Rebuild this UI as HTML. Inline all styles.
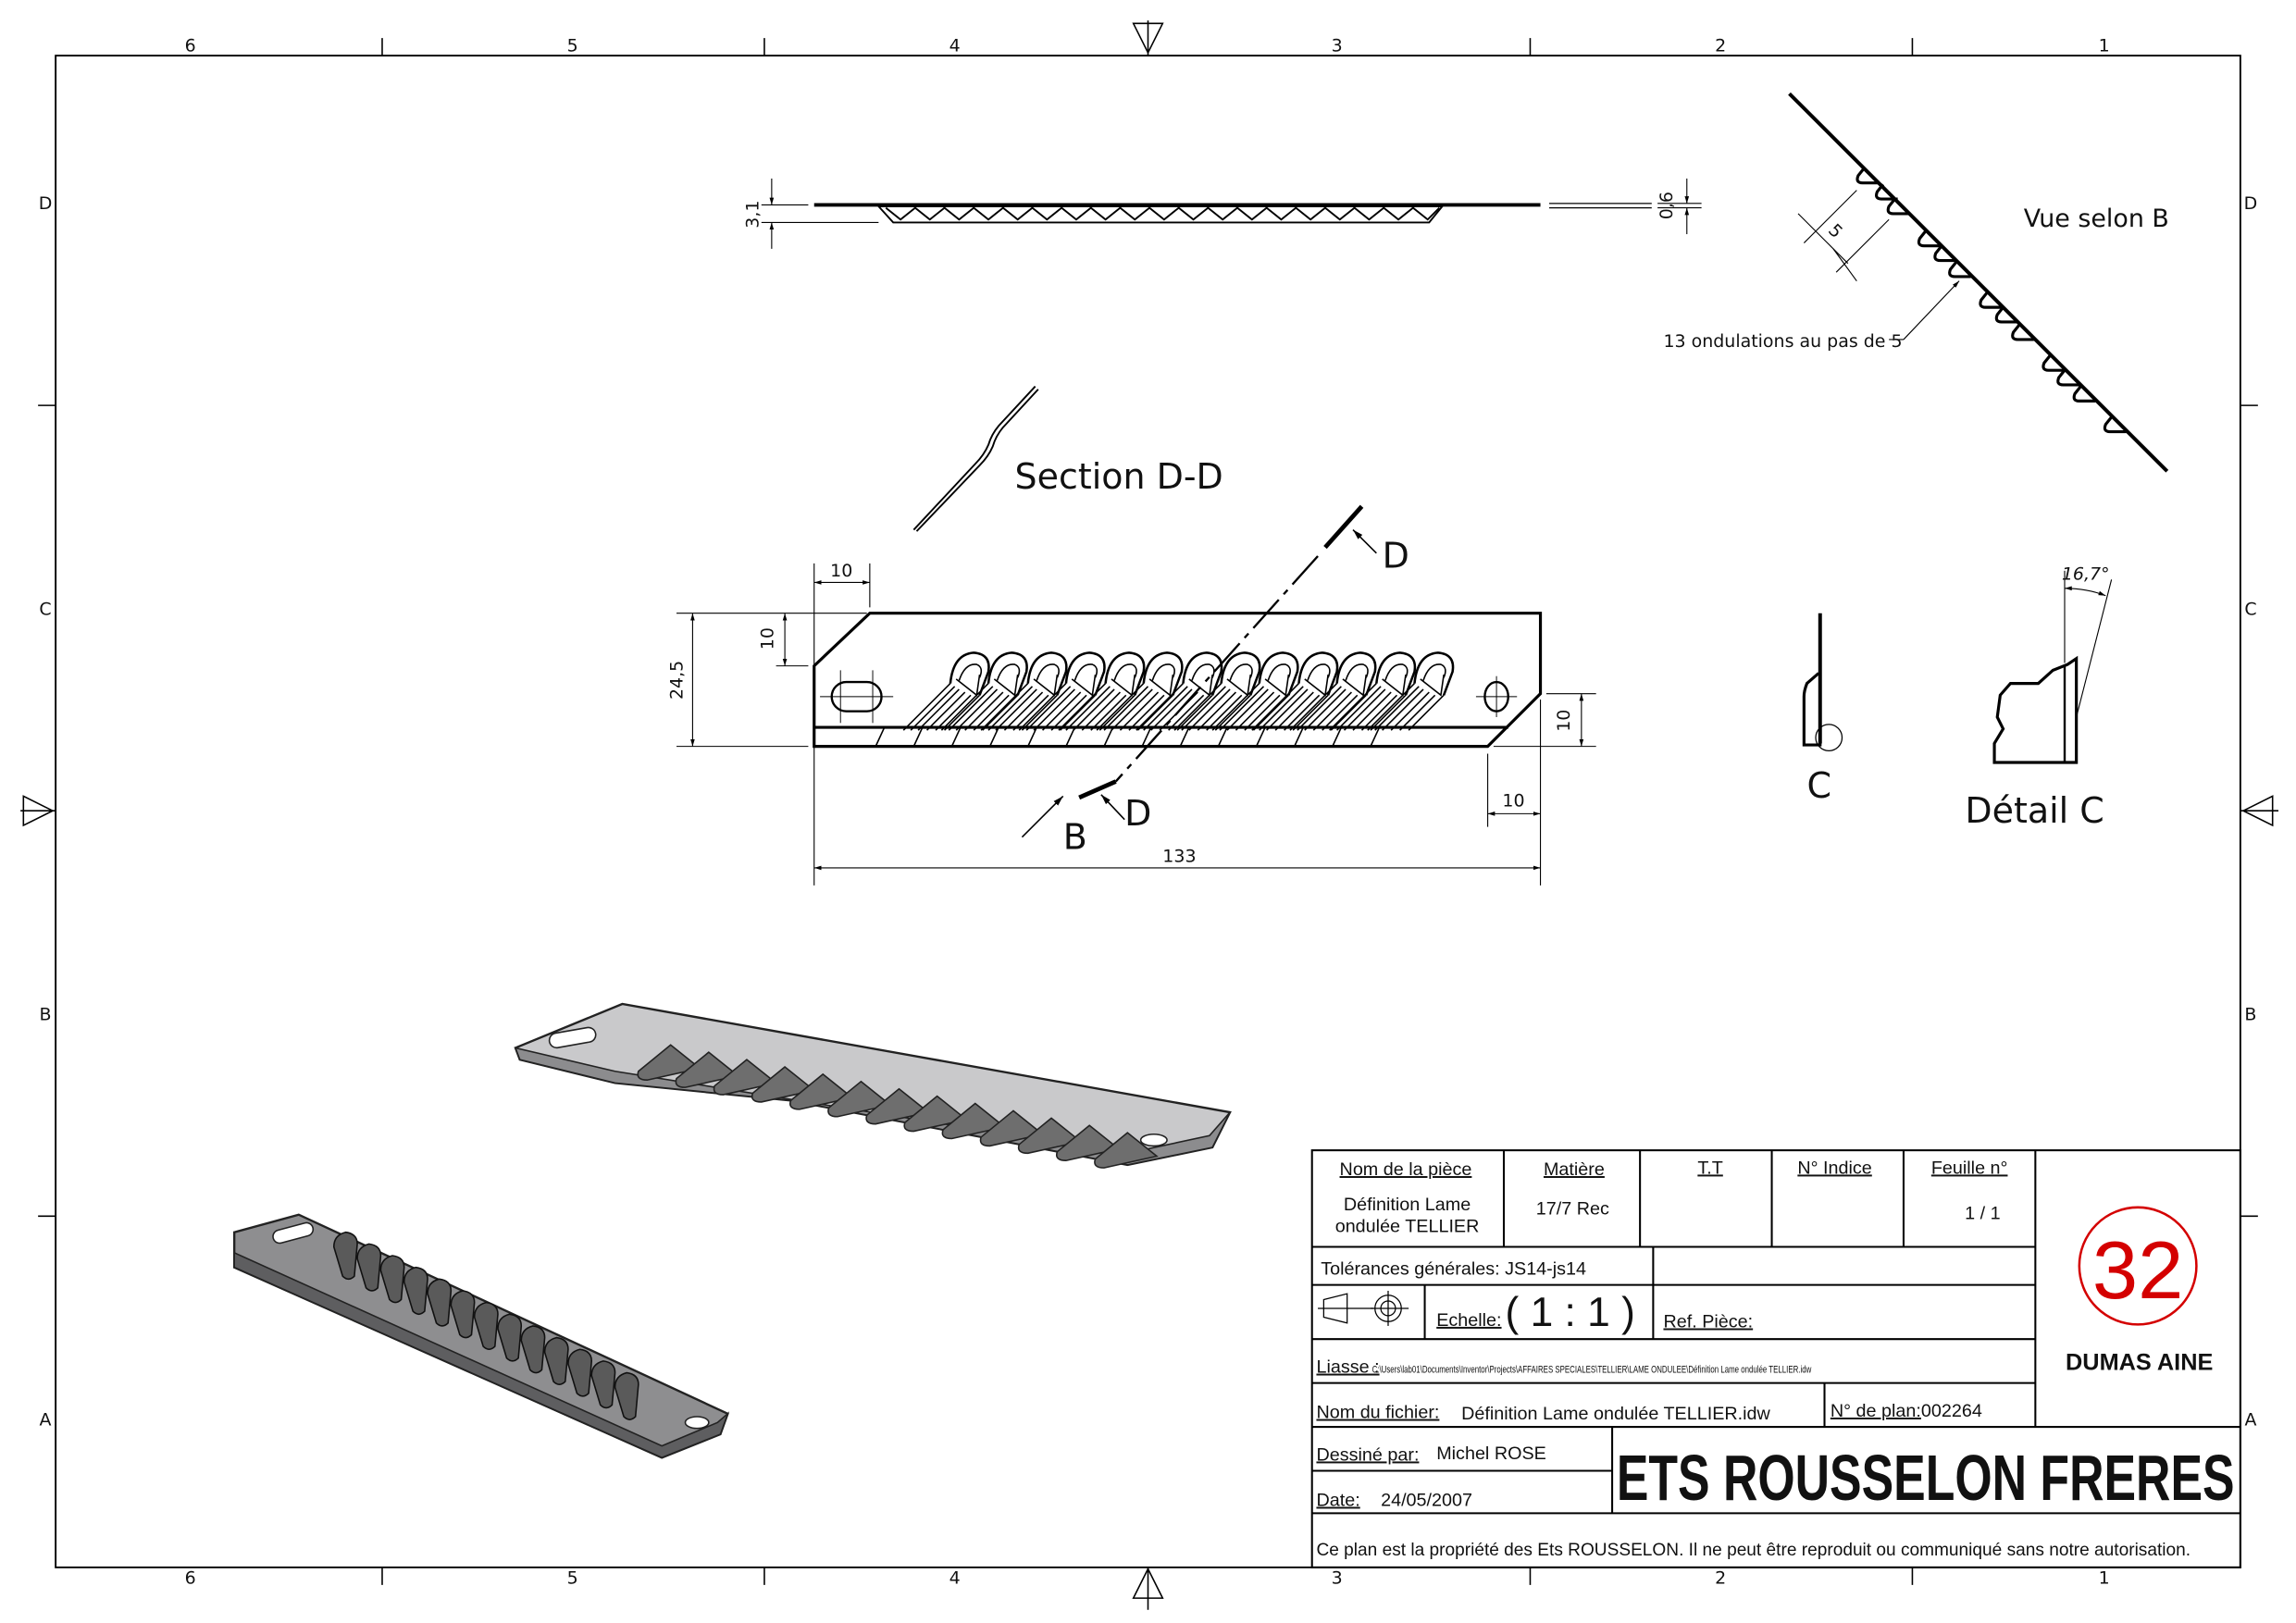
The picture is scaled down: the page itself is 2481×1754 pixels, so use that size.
<!DOCTYPE html>
<html><head><meta charset="utf-8"><style>
html,body{margin:0;padding:0;background:#fff}
svg{display:block}
.t{font-family:"DejaVu Sans","Liberation Sans",sans-serif;fill:#111}
.n{font-family:"Liberation Sans",sans-serif;fill:#111}
</style></head><body>
<svg width="2481" height="1754" viewBox="0 0 1568 1109" preserveAspectRatio="none" xmlns="http://www.w3.org/2000/svg">
<defs>
<marker id="a" viewBox="0 0 10 10" refX="10" refY="5" markerWidth="7" markerHeight="7" orient="auto-start-reverse"><path d="M0,2 L10,5 L0,8 Z" fill="#000"/></marker>
<g id="w" fill="none" stroke="#000" stroke-width="1">
<path d="M-14,20 Q-12,0 2,-1 Q14,0 12,12 L6,28" stroke-width="1.6"/>
<path d="M-8,18 Q-4,6 4,7 Q9,9 6,16" />
<path d="M-10,17 L4,28 L6,14"/>
<line x1="-14" y1="20" x2="-46" y2="52"/>
<line x1="-11" y1="22" x2="-41" y2="52"/>
<line x1="-8" y1="24" x2="-36" y2="52"/>
<line x1="-4" y1="26" x2="-30" y2="52"/>
<line x1="0" y1="28" x2="-24" y2="52"/>
<line x1="6" y1="28" x2="-18" y2="52"/>
</g>
<path id="tooth" d="M0,0 L-4,5 Q-6,10 -1,10 L10,10" fill="none" stroke="#000" stroke-width="2"/>
<path id="bump1" d="M0,0 L-22,18 Q-24,24 -16,24 L20,16 Z" fill="#6e6e6e" stroke="#222" stroke-width="1"/>
<path id="bump2" d="M0,0 Q-8,2 -8,10 L-2,30 Q2,34 6,30 L8,8 Q8,1 0,0 Z" fill="#5a5a5a" stroke="#111" stroke-width="1"/>
</defs>

<rect x="38" y="38" width="1492" height="1033" fill="none" stroke="#000" stroke-width="1.2"/>
<g stroke="#000" stroke-width="1">
<line x1="261" y1="26" x2="261" y2="38"/><line x1="522" y1="26" x2="522" y2="38"/><line x1="1045" y1="26" x2="1045" y2="38"/><line x1="1306" y1="26" x2="1306" y2="38"/>
<line x1="261" y1="1071" x2="261" y2="1083"/><line x1="522" y1="1071" x2="522" y2="1083"/><line x1="1045" y1="1071" x2="1045" y2="1083"/><line x1="1306" y1="1071" x2="1306" y2="1083"/>
<line x1="26" y1="277" x2="38" y2="277"/><line x1="26" y1="831" x2="38" y2="831"/>
<line x1="1530" y1="277" x2="1542" y2="277"/><line x1="1530" y1="831" x2="1542" y2="831"/>
<line x1="784" y1="14" x2="784" y2="38"/><path d="M774,16 L794,16 L784,36 Z" fill="none"/>
<line x1="784" y1="1071" x2="784" y2="1100"/><path d="M774,1092 L794,1092 L784,1072 Z" fill="none"/>
<line x1="14" y1="554" x2="38" y2="554"/><path d="M16,544 L16,564 L36,554 Z" fill="none"/>
<line x1="1530" y1="554" x2="1556" y2="554"/><path d="M1552,544 L1552,564 L1532,554 Z" fill="none"/>
</g>
<g class="t" font-size="12" text-anchor="middle">
<text x="130" y="35">6</text><text x="391" y="35">5</text><text x="652" y="35">4</text><text x="913" y="35">3</text><text x="1175" y="35">2</text><text x="1437" y="35">1</text>
<text x="130" y="1082">6</text><text x="391" y="1082">5</text><text x="652" y="1082">4</text><text x="913" y="1082">3</text><text x="1175" y="1082">2</text><text x="1437" y="1082">1</text>
<text x="31" y="143">D</text><text x="31" y="420">C</text><text x="31" y="697">B</text><text x="31" y="974">A</text>
<text x="1537" y="143">D</text><text x="1537" y="420">C</text><text x="1537" y="697">B</text><text x="1537" y="974">A</text>
</g>

<g stroke="#000" fill="none">
<line x1="556" y1="140" x2="1052" y2="140" stroke-width="2.5"/>
<path d="M600,141 L985,141 L976,152 L610,152 Z" stroke-width="1.2"/>
<path d="M605,142 L615,150 L625,142 L635,150 L645,142 L655,150 L665,142 L675,150 L685,142 L695,150 L705,142 L715,150 L725,142 L735,150 L745,142 L755,150 L765,142 L775,150 L785,142 L795,150 L805,142 L815,150 L825,142 L835,150 L845,142 L855,150 L865,142 L875,150 L885,142 L895,150 L905,142 L915,150 L925,142 L935,150 L945,142 L955,150 L965,142 L975,150 L983,142" stroke-width="1.2"/>
<line x1="1058" y1="139" x2="1128" y2="139" stroke-width="0.8"/><line x1="1058" y1="142" x2="1128" y2="142" stroke-width="0.8"/>
<g stroke-width="0.7">
<line x1="520" y1="140" x2="552" y2="140"/><line x1="520" y1="152" x2="600" y2="152"/>
<line x1="527" y1="122" x2="527" y2="140" marker-end="url(#a)"/><line x1="527" y1="170" x2="527" y2="152" marker-end="url(#a)"/>
<line x1="1132" y1="139" x2="1162" y2="139"/><line x1="1132" y1="142" x2="1162" y2="142"/>
<line x1="1152" y1="122" x2="1152" y2="139" marker-end="url(#a)"/><line x1="1152" y1="160" x2="1152" y2="142" marker-end="url(#a)"/>
</g></g>
<text class="t" font-size="12" transform="translate(518,156) rotate(-90)">3,1</text>
<text class="t" font-size="12" transform="translate(1142,150) rotate(-90)">0,6</text>

<g stroke="#000" fill="none">
<line x1="1222" y1="64" x2="1480" y2="322" stroke-width="2.5"/>
<use href="#tooth" x="1273" y="115"/><use href="#tooth" x="1294" y="136"/><use href="#tooth" x="1315" y="158"/><use href="#tooth" x="1336" y="179"/><use href="#tooth" x="1357" y="200"/><use href="#tooth" x="1379" y="222"/><use href="#tooth" x="1400" y="243"/><use href="#tooth" x="1421" y="264"/><use href="#tooth" x="1442" y="285"/><use href="#tooth" x="1286" y="126"/><use href="#tooth" x="1326" y="168"/><use href="#tooth" x="1368" y="210"/><use href="#tooth" x="1410" y="253"/>
<g stroke-width="0.7">
<line x1="1268" y1="130" x2="1232" y2="166"/><line x1="1290" y1="150" x2="1254" y2="186"/>
<line x1="1228" y1="146" x2="1262" y2="180" /><line x1="1252" y1="170" x2="1268" y2="192"/>
<line x1="1290" y1="232" x2="1300" y2="232"/><line x1="1300" y1="232" x2="1338" y2="192" marker-end="url(#a)"/>
</g></g>
<text class="t" font-size="12" transform="translate(1248,158) rotate(45)">5</text>
<text class="t" font-size="12" x="1136" y="237">13 ondulations au pas de 5</text>
<text class="t" font-size="17" x="1382" y="155">Vue selon B</text>

<g fill="none" stroke="#000">
<path d="M707,264 L682,291 Q677,297 675,304 Q672,311 666,317 L624,362" stroke-width="1.2"/>
<path d="M709,266 L685,292 Q680,298 678,305 Q675,312 669,318 L626,363" stroke-width="1.2"/>
</g>
<text class="t" font-size="24" x="693" y="334">Section D-D</text>

<g stroke="#000" fill="none">
<path d="M556,455 L594,419 L1052,419 L1052,474 L1016,510 L556,510 Z" stroke-width="2"/>
<line x1="556" y1="497" x2="1030" y2="497" stroke-width="2"/>
<g stroke-width="1">
<line x1="604" y1="497" x2="598" y2="510"/><line x1="630" y1="497" x2="624" y2="510"/><line x1="656" y1="497" x2="650" y2="510"/><line x1="682" y1="497" x2="676" y2="510"/><line x1="708" y1="497" x2="702" y2="510"/><line x1="734" y1="497" x2="728" y2="510"/><line x1="760" y1="497" x2="754" y2="510"/><line x1="786" y1="497" x2="780" y2="510"/><line x1="812" y1="497" x2="806" y2="510"/><line x1="838" y1="497" x2="832" y2="510"/><line x1="864" y1="497" x2="858" y2="510"/><line x1="890" y1="497" x2="884" y2="510"/><line x1="916" y1="497" x2="910" y2="510"/><line x1="942" y1="497" x2="936" y2="510"/>
</g>
<rect x="568" y="466" width="34" height="20" rx="10" stroke-width="1.5"/>
<line x1="560" y1="476" x2="610" y2="476" stroke-width="0.6"/><line x1="574" y1="458" x2="574" y2="494" stroke-width="0.6"/><line x1="596" y1="458" x2="596" y2="494" stroke-width="0.6"/>
<ellipse cx="1022" cy="476" rx="8" ry="10" stroke-width="1.5"/>
<line x1="1008" y1="476" x2="1036" y2="476" stroke-width="0.6"/><line x1="1022" y1="462" x2="1022" y2="490" stroke-width="0.6"/>
<use href="#w" x="663" y="447"/><use href="#w" x="689" y="447"/><use href="#w" x="716" y="447"/><use href="#w" x="742" y="447"/><use href="#w" x="769" y="447"/><use href="#w" x="795" y="447"/><use href="#w" x="822" y="447"/><use href="#w" x="848" y="447"/><use href="#w" x="874" y="447"/><use href="#w" x="901" y="447"/><use href="#w" x="927" y="447"/><use href="#w" x="954" y="447"/><use href="#w" x="980" y="447"/>
<line x1="930" y1="346" x2="905" y2="374" stroke-width="3"/>
<line x1="900" y1="380" x2="762" y2="534" stroke-width="1.5" stroke-dasharray="26,5,4,5"/>
<line x1="762" y1="534" x2="737" y2="545" stroke-width="3"/>
<line x1="940" y1="378" x2="924" y2="362" stroke-width="1" marker-end="url(#a)"/>
<line x1="768" y1="560" x2="752" y2="543" stroke-width="1" marker-end="url(#a)"/>
<line x1="698" y1="572" x2="726" y2="544" stroke-width="1" marker-end="url(#a)"/>
<g stroke-width="0.7">
<line x1="556" y1="385" x2="556" y2="605"/><line x1="594" y1="385" x2="594" y2="415"/>
<line x1="556" y1="398" x2="594" y2="398" marker-start="url(#a)" marker-end="url(#a)"/>
<line x1="462" y1="419" x2="592" y2="419"/><line x1="462" y1="510" x2="552" y2="510"/>
<line x1="473" y1="419" x2="473" y2="510" marker-start="url(#a)" marker-end="url(#a)"/>
<line x1="530" y1="455" x2="552" y2="455"/>
<line x1="536" y1="419" x2="536" y2="455" marker-start="url(#a)" marker-end="url(#a)"/>
<line x1="1056" y1="474" x2="1090" y2="474"/><line x1="1020" y1="510" x2="1090" y2="510"/>
<line x1="1080" y1="474" x2="1080" y2="510" marker-start="url(#a)" marker-end="url(#a)"/>
<line x1="1052" y1="478" x2="1052" y2="605"/><line x1="1016" y1="515" x2="1016" y2="565"/>
<line x1="1016" y1="556" x2="1052" y2="556" marker-start="url(#a)" marker-end="url(#a)"/>
<line x1="556" y1="593" x2="1052" y2="593" marker-start="url(#a)" marker-end="url(#a)"/>
</g></g>
<g class="t" font-size="12">
<text x="567" y="394">10</text>
<text transform="translate(528,444) rotate(-90)">10</text>
<text transform="translate(466,478) rotate(-90)">24,5</text>
<text transform="translate(1072,500) rotate(-90)">10</text>
<text x="1026" y="551">10</text>
<text x="794" y="589">133</text>
</g>
<g class="t" font-size="24"><text x="944" y="388">D</text><text x="768" y="564">D</text><text x="726" y="580">B</text></g>

<g stroke="#000" fill="none">
<line x1="1243" y1="419" x2="1243" y2="508" stroke-width="2.5"/>
<path d="M1242,460 L1234,467 Q1232,472 1232,476 L1232,509 L1244,509" stroke-width="2"/>
<circle cx="1249" cy="504" r="9" stroke-width="0.8"/>
<path d="M1362,521 L1362,508 L1368,498 L1364,490 L1366,475 L1373,467 L1392,467 L1402,458 L1412,454 L1418,450 L1418,521 Z" stroke-width="2"/>
<line x1="1410" y1="455" x2="1410" y2="521" stroke-width="1.5"/>
<g stroke-width="0.7">
<line x1="1410" y1="453" x2="1410" y2="390"/><line x1="1418" y1="490" x2="1442" y2="396"/>
<path d="M1410,402 Q1425,402 1438,407" marker-start="url(#a)" marker-end="url(#a)"/>
</g></g>
<text class="t" font-size="12" font-style="italic" x="1408" y="396">16,7°</text>
<text class="t" font-size="24" x="1234" y="545">C</text>
<text class="t" font-size="24" x="1342" y="562">Détail C</text>

<path d="M352,716 L425,686 L840,760 L828,784 L770,796 L540,752 L420,740 L355,724 Z" fill="#c9c9cb" stroke="#222" stroke-width="1.5"/>
<path d="M352,716 L355,724 L420,740 L540,752 L770,796 L828,784 L840,760 L826,776 L770,788 L420,732 Z" fill="#8c8c8e" stroke="#222" stroke-width="1"/>
<rect x="375" y="704" width="32" height="10" rx="5" fill="#fff" stroke="#222" transform="rotate(-10 391 709)"/>
<ellipse cx="788" cy="779" rx="9" ry="4" fill="#fff" stroke="#222"/>
<g>
<use href="#bump1" x="458" y="714"/><use href="#bump1" x="484" y="719"/><use href="#bump1" x="510" y="724"/><use href="#bump1" x="536" y="729"/><use href="#bump1" x="562" y="734"/><use href="#bump1" x="588" y="739"/><use href="#bump1" x="614" y="744"/><use href="#bump1" x="640" y="749"/><use href="#bump1" x="666" y="754"/><use href="#bump1" x="692" y="759"/><use href="#bump1" x="718" y="764"/><use href="#bump1" x="744" y="769"/><use href="#bump1" x="770" y="774"/>
</g>

<path d="M160,842 L204,830 L497,966 L492,980 L452,996 L160,866 Z" fill="#8e8e90" stroke="#222" stroke-width="1.5"/>
<path d="M160,856 L160,866 L452,996 L492,980 L497,966 L490,972 L452,988 Z" fill="#5e5e60" stroke="#222" stroke-width="1"/>
<rect x="186" y="838" width="28" height="9" rx="4.5" fill="#fff" stroke="#222" transform="rotate(-15 200 842)"/>
<ellipse cx="476" cy="972" rx="8" ry="4" fill="#fff" stroke="#222"/>
<g>
<use href="#bump2" x="236" y="842"/><use href="#bump2" x="252" y="850"/><use href="#bump2" x="268" y="858"/><use href="#bump2" x="284" y="866"/><use href="#bump2" x="300" y="874"/><use href="#bump2" x="316" y="882"/><use href="#bump2" x="332" y="890"/><use href="#bump2" x="348" y="898"/><use href="#bump2" x="364" y="906"/><use href="#bump2" x="380" y="914"/><use href="#bump2" x="396" y="922"/><use href="#bump2" x="412" y="930"/><use href="#bump2" x="428" y="938"/>
</g>

<g stroke="#000" stroke-width="1.3" fill="none">
<rect x="896" y="786" width="634" height="285"/>
<line x1="896" y1="852" x2="1390" y2="852"/>
<line x1="1027" y1="786" x2="1027" y2="852"/><line x1="1120" y1="786" x2="1120" y2="852"/><line x1="1210" y1="786" x2="1210" y2="852"/><line x1="1300" y1="786" x2="1300" y2="852"/>
<line x1="1390" y1="786" x2="1390" y2="975"/>
<line x1="1129" y1="852" x2="1129" y2="915"/>
<line x1="896" y1="878" x2="1390" y2="878"/>
<line x1="973" y1="878" x2="973" y2="915"/>
<line x1="896" y1="915" x2="1390" y2="915"/>
<line x1="896" y1="945" x2="1390" y2="945"/>
<line x1="1246" y1="945" x2="1246" y2="975"/>
<line x1="896" y1="975" x2="1530" y2="975"/>
<line x1="1101" y1="975" x2="1101" y2="1034"/>
<line x1="896" y1="1005" x2="1101" y2="1005"/>
<line x1="896" y1="1034" x2="1530" y2="1034"/>
<g stroke-width="0.8"><path d="M904,888 L920,884 L920,904 L904,900 Z"/><line x1="900" y1="894" x2="938" y2="894"/><circle cx="948" cy="894" r="9"/><circle cx="948" cy="894" r="5"/><line x1="936" y1="894" x2="962" y2="894"/><line x1="948" y1="882" x2="948" y2="906"/></g>
</g>
<circle cx="1460" cy="865" r="40" fill="none" stroke="#d40000" stroke-width="1.6"/>
<text class="n" font-size="56" style="fill:#d40000" x="1460" y="887" text-anchor="middle">32</text>
<text class="n" font-size="16" font-weight="bold" x="1461" y="936" text-anchor="middle">DUMAS AINE</text>
<g class="n" font-size="12.5" text-anchor="middle">
<text x="960" y="803" text-decoration="underline">Nom de la pièce</text>
<text x="961" y="827">Définition Lame</text><text x="961" y="842">ondulée TELLIER</text>
<text x="1075" y="803" text-decoration="underline">Matière</text><text x="1074" y="830">17/7 Rec</text>
<text x="1168" y="802" text-decoration="underline">T.T</text>
<text x="1253" y="802" text-decoration="underline">N° Indice</text>
<text x="1345" y="802" text-decoration="underline">Feuille n°</text>
<text x="1354" y="833">1    /    1</text>
</g>
<g class="n" font-size="12.5">
<text x="902" y="871">Tolérances générales: JS14-js14</text>
<text x="981" y="906" text-decoration="underline">Echelle:</text>
<text x="1028" y="906" font-size="28">( 1 : 1 )</text>
<text x="1136" y="907" text-decoration="underline">Ref. Pièce:</text>
<text x="899" y="938" text-decoration="underline">Liasse :</text>
<text x="937" y="938" font-size="7" textLength="300" lengthAdjust="spacingAndGlyphs">C:\Users\lab01\Documents\Inventor\Projects\AFFAIRES SPECIALES\TELLIER\LAME ONDULEE\Définition Lame ondulée TELLIER.idw</text>
<text x="899" y="969" text-decoration="underline">Nom du fichier:</text>
<text x="998" y="970">Définition Lame ondulée TELLIER.idw</text>
<text x="1250" y="968"><tspan text-decoration="underline">N° de plan:</tspan>002264</text>
<text x="899" y="998" text-decoration="underline">Dessiné par:</text><text x="981" y="997">Michel ROSE</text>
<text x="899" y="1029" text-decoration="underline">Date:</text><text x="943" y="1029">24/05/2007</text>
<text x="899" y="1063" textLength="597" lengthAdjust="spacingAndGlyphs">Ce plan est la propriété des Ets ROUSSELON. Il ne peut être reproduit ou communiqué sans notre autorisation.</text>
<text x="1104" y="1025" font-size="44" font-weight="bold" textLength="422" lengthAdjust="spacingAndGlyphs">ETS ROUSSELON FRERES</text>
</g>
</svg>
</body></html>
